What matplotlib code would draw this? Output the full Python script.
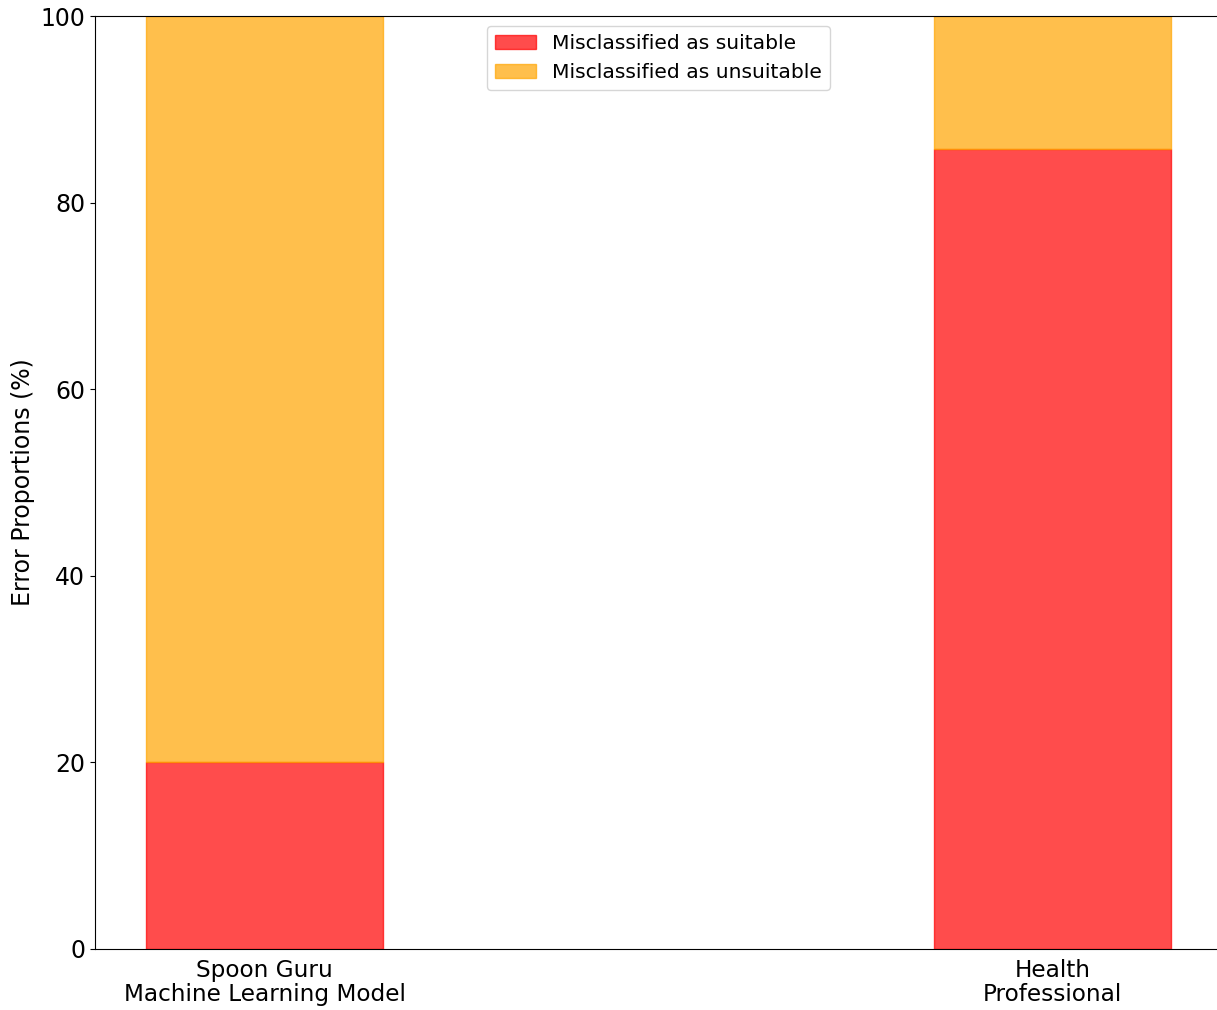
import matplotlib
matplotlib.use("Agg")
import matplotlib.pyplot as plt

groups = ["Spoon Guru\nMachine Learning Model", "Health\nProfessional"]
suitable = [20.0, 85.7]
unsuitable = [80.0, 14.3]

fig = plt.figure(figsize=(12.17, 10.10), dpi=100)
ax = fig.add_axes([95 / 1217, 1 - 949 / 1010, (1222 - 95) / 1217, (949 - 16) / 1010])

x = range(len(groups))
ax.bar(x, suitable, width=0.3, color="red", edgecolor="red", alpha=0.7,
       label="Misclassified as suitable")
ax.bar(x, unsuitable, width=0.3, bottom=suitable, color="orange", edgecolor="orange",
       alpha=0.7, label="Misclassified as unsuitable")

ax.set_xlim(-0.215, 1.215)
ax.set_ylim(0, 100)
ax.set_xticks(list(x))
ax.set_xticklabels(groups, fontsize=16.7, linespacing=1.05)
ax.tick_params(axis="x", length=0, pad=7)
ax.tick_params(axis="y", labelsize=17)
ax.set_ylabel("Error Proportions (%)", fontsize=17)
ax.legend(loc="upper center", fontsize=14.6)

fig.savefig("out.png", dpi=100)
